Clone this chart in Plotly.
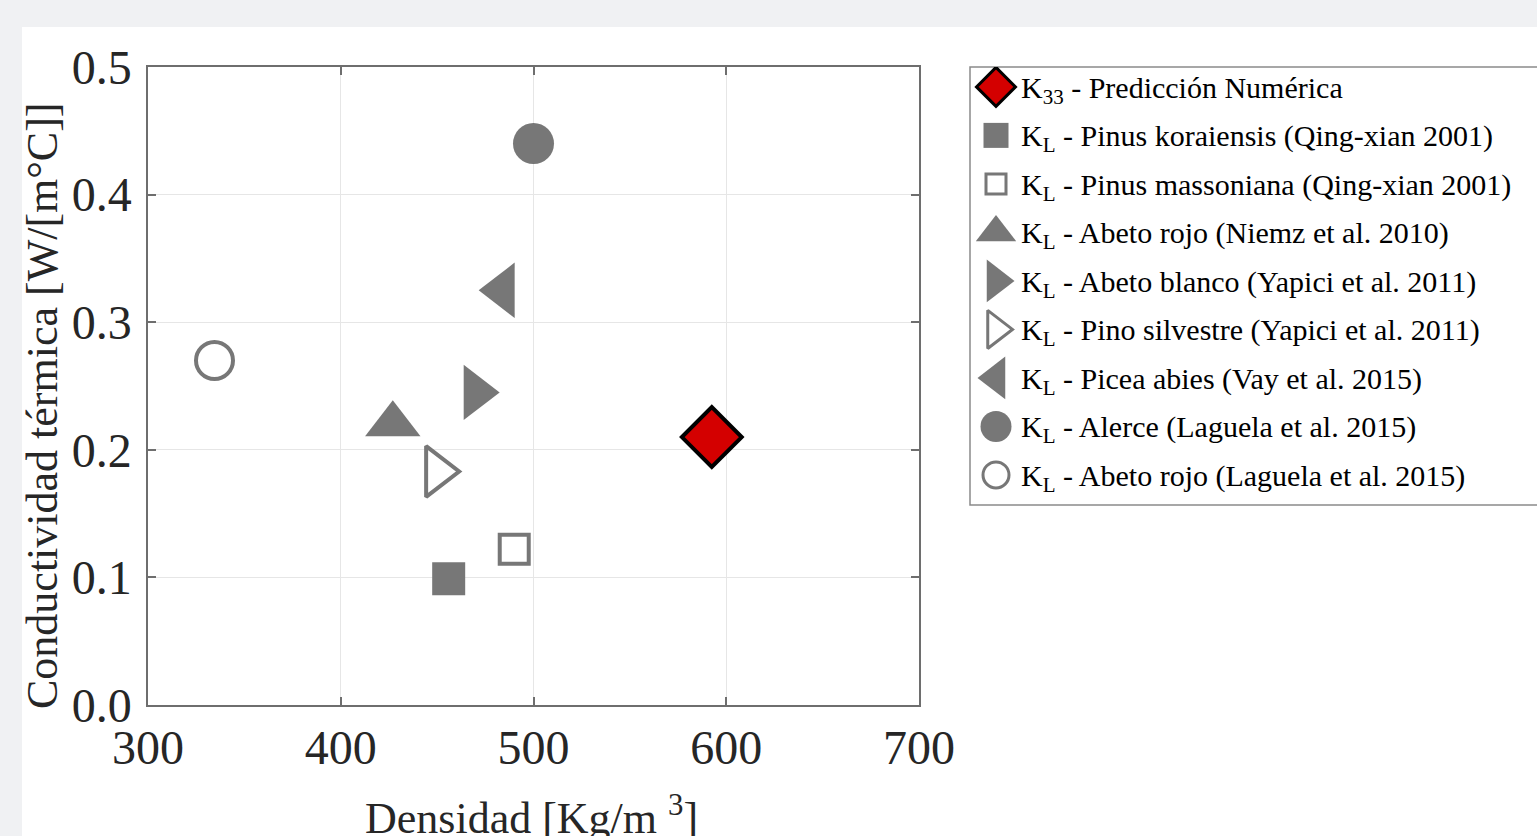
import plotly.graph_objects as go

W, H = 1537, 836

# ---------------- data ----------------
series_labels = [
    "K<sub>33</sub> - Predicción Numérica",
    "K<sub>L</sub> - Pinus koraiensis (Qing-xian 2001)",
    "K<sub>L</sub> - Pinus massoniana (Qing-xian 2001)",
    "K<sub>L</sub> - Abeto rojo (Niemz et al. 2010)",
    "K<sub>L</sub> - Abeto blanco (Yapici et al. 2011)",
    "K<sub>L</sub> - Pino silvestre (Yapici et al. 2011)",
    "K<sub>L</sub> - Picea abies (Vay et al. 2015)",
    "K<sub>L</sub> - Alerce (Laguela et al. 2015)",
    "K<sub>L</sub> - Abeto rojo (Laguela et al. 2015)",
]
densidad = [592.5, 456, 490, 427, 470, 450, 484, 500, 334.5]
conductividad = [0.21, 0.099, 0.122, 0.22, 0.245, 0.183, 0.325, 0.44, 0.27]

x_ticks = [300, 400, 500, 600, 700]
x_ticklabels = ["300", "400", "500", "600", "700"]
y_ticks = [0.0, 0.1, 0.2, 0.3, 0.4, 0.5]
y_ticklabels = ["0.0", "0.1", "0.2", "0.3", "0.4", "0.5"]

x_title = "Densidad [Kg/m <sup>3</sup>]"
y_title = "Conductividad térmica [W/[m°C]]"

# ---------------- styles ----------------
GRAY = "#777777"
RED = "#d40000"
symbols = ["diamond", "square", "square-open", "triangle-up", "triangle-right",
           "triangle-right-open", "triangle-left", "circle", "circle-open"]
fills = [RED, GRAY, GRAY, GRAY, GRAY, GRAY, GRAY, GRAY, GRAY]
line_colors = ["black", GRAY, GRAY, GRAY, GRAY, GRAY, GRAY, GRAY, GRAY]
line_widths = [4, 0, 4, 0, 0, 4, 0, 0, 4]
plot_sizes = [46, 33, 29, 48, 48, 44, 48, 41, 37]
legend_sizes = [30, 25, 20, 35, 37, 33, 37, 31, 26]
legend_lw = [3, 0, 3, 0, 0, 3, 0, 0, 3]

FONT = "Liberation Serif, Times New Roman, serif"

fig = go.Figure()

# main scatter
for i, lab in enumerate(series_labels):
    fig.add_trace(go.Scatter(
        x=[densidad[i]], y=[conductividad[i]], mode="markers",
        name=lab, showlegend=False, hoverinfo="skip",
        marker=dict(symbol=symbols[i], size=plot_sizes[i], color=fills[i],
                    line=dict(color=line_colors[i], width=line_widths[i])),
        xaxis="x", yaxis="y",
    ))

# custom legend markers (row index on the legend axis)
LEG_X = 996
for i, lab in enumerate(series_labels):
    fig.add_trace(go.Scatter(
        x=[LEG_X], y=[i], mode="markers", showlegend=False, hoverinfo="skip",
        marker=dict(symbol=symbols[i], size=legend_sizes[i], color=fills[i],
                    line=dict(color=line_colors[i], width=legend_lw[i])),
        xaxis="x2", yaxis="y2",
    ))

annotations = []
for i, lab in enumerate(series_labels):
    annotations.append(dict(
        text=lab, xref="paper", yref="y2", x=1019 / W, y=i,
        xanchor="left", yanchor="middle", yshift=-3, showarrow=False,
        font=dict(family=FONT, size=30, color="black"),
    ))

annotations.append(dict(
    text=y_title, xref="paper", yref="paper", x=42 / W, y=1 - 406 / H,
    textangle=-90, xanchor="center", yanchor="middle", showarrow=False,
    font=dict(family=FONT, size=44, color="#262626"),
))
annotations.append(dict(
    text=x_title, xref="paper", yref="paper", x=531 / W, y=1 - 786 / H,
    xanchor="center", yanchor="top", showarrow=False,
    font=dict(family=FONT, size=44, color="#262626"),
))

shapes = [
    dict(type="rect", xref="paper", yref="paper", x0=22 / W, x1=1.0,
         y0=0, y1=1 - 27 / H, fillcolor="white", line=dict(width=0), layer="below"),
    dict(type="rect", xref="paper", yref="paper", x0=970 / W, x1=1.01,
         y0=1 - 505 / H, y1=1 - 67 / H, fillcolor="rgba(0,0,0,0)",
         line=dict(color="#8a8a8a", width=1.5), layer="below"),
]

axis_common = dict(
    showline=True, linecolor="#6e6e6e", linewidth=1.5, mirror="ticks",
    ticks="inside", ticklen=8, tickcolor="#6e6e6e", tickwidth=1.5,
    showgrid=True, gridcolor="#e6e6e6", gridwidth=1, zeroline=False,
    tickfont=dict(family=FONT, size=48, color="#262626"),
    automargin=False, fixedrange=True,
)

fig.update_layout(
    width=W, height=H,
    margin=dict(l=0, r=0, t=0, b=0),
    paper_bgcolor="#f0f1f3", plot_bgcolor="white",
    showlegend=False,
    xaxis=dict(domain=[148 / W, 919 / W], range=[300, 700],
               tickvals=x_ticks, ticktext=x_ticklabels, anchor="y",
               ticklabelstandoff=0, **axis_common),
    yaxis=dict(domain=[1 - 705 / H, 1 - 67 / H], range=[0, 0.5],
               tickvals=y_ticks, ticktext=y_ticklabels, anchor="x",
               ticklabelstandoff=5, **axis_common),
    xaxis2=dict(domain=[970 / W, 1.0], range=[970, 1537], visible=False,
                anchor="y2", fixedrange=True),
    yaxis2=dict(domain=[1 - 505 / H, 1 - 67 / H], range=[8.62, -0.41],
                visible=False, anchor="x2", fixedrange=True),
    annotations=annotations, shapes=shapes,
    font=dict(family=FONT),
)

fig.write_html("out.html", config={"displayModeBar": False},
               post_script="document.body.style.margin='0';")
